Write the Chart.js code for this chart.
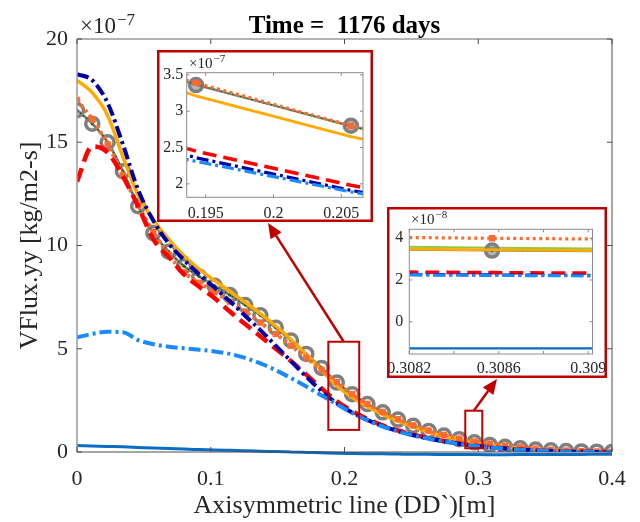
<!DOCTYPE html>
<html>
<head>
<meta charset="utf-8">
<script src="https://cdn.jsdelivr.net/npm/chart.js@4.4.0/dist/chart.umd.min.js"></script>
<style>
  html, body { margin: 0; padding: 0; background: #fff; }
  #wrap { position: relative; width: 640px; height: 522px; }
  #main { position: absolute; left: 0; top: 0; }
  #inA { position: absolute; left: 157px; top: 50px; }
  #inB { position: absolute; left: 387px; top: 207px; }
</style>
</head>
<body>
<div id="wrap">
  <canvas id="main" width="640" height="522"></canvas>
  <canvas id="inA" width="216" height="172"></canvas>
  <canvas id="inB" width="220" height="171"></canvas>
</div>
<script>
// values are in units of 1e-7 kg/m2-s
const xPos = [0, 0.0114, 0.0229, 0.0343, 0.0457, 0.0571, 0.0686, 0.08, 0.0914, 0.1029, 0.1143, 0.1257, 0.1371, 0.1486, 0.16, 0.1714, 0.1829, 0.19429, 0.20571, 0.2171, 0.2286, 0.24, 0.2514, 0.2629, 0.2743, 0.2857, 0.2971, 0.30857, 0.32, 0.3314, 0.3429, 0.3543, 0.3657, 0.3771, 0.3886, 0.4];

const circleRef = [16.55, 15.9, 15.0, 13.6, 11.9, 10.6, 9.7, 9.0, 8.5, 8.05, 7.6, 7.12, 6.62, 6.02, 5.4, 4.75, 4.07, 3.36, 2.8, 2.32, 1.92, 1.57, 1.27, 1.02, 0.8, 0.62, 0.47, 0.341, 0.25, 0.18, 0.12, 0.08, 0.05, 0.03, 0.015, 0.005];
const greenDots = [16.55, 15.9, 15.0, 13.6, 11.9, 10.6, 9.7, 9.0, 8.5, 8.05, 7.6, 7.12, 6.62, 6.02, 5.4, 4.75, 4.07, 3.37, 2.79, 2.32, 1.92, 1.57, 1.27, 1.02, 0.8, 0.62, 0.47, 0.341, 0.25, 0.18, 0.12, 0.08, 0.05, 0.03, 0.015, 0.005];
const greenLine = [16.55, 15.9, 15.0, 13.6, 11.9, 10.6, 9.7, 9.0, 8.5, 8.05, 7.6, 7.12, 6.62, 6.02, 5.4, 4.75, 4.07, 3.37, 2.79, 2.32, 1.92, 1.57, 1.27, 1.02, 0.8, 0.62, 0.48, 0.355, 0.26, 0.18, 0.12, 0.08, 0.05, 0.03, 0.015, 0.005];
const orangeDots = [17.05, 16.1, 14.9, 13.4, 11.95, 10.65, 9.55, 8.7, 8.2, 7.75, 7.28, 6.8, 6.27, 5.72, 5.15, 4.57, 3.98, 3.39, 2.8, 2.33, 1.94, 1.59, 1.29, 1.04, 0.83, 0.65, 0.51, 0.40, 0.31, 0.23, 0.16, 0.11, 0.07, 0.045, 0.025, 0.01];
const orangeLine = [18.0, 17.4, 16.3, 14.3, 12.45, 11.25, 10.3, 9.5, 8.85, 8.3, 7.78, 7.25, 6.7, 6.1, 5.45, 4.72, 3.96, 3.21, 2.65, 2.2, 1.82, 1.49, 1.21, 0.97, 0.76, 0.59, 0.455, 0.344, 0.255, 0.185, 0.125, 0.085, 0.055, 0.032, 0.016, 0.006];
const redDash = [13.1, 14.8, 14.5, 13.35, 11.9, 10.3, 9.45, 8.6, 8.0, 7.45, 6.8, 6.2, 5.6, 5.0, 4.4, 3.75, 3.08, 2.45, 1.98, 1.6, 1.29, 1.04, 0.84, 0.67, 0.53, 0.41, 0.31, 0.235, 0.17, 0.12, 0.08, 0.05, 0.03, 0.015, 0.006, 0.0];
const navyDashDot = [18.3, 18.0, 16.9, 14.9, 12.7, 11.2, 10.1, 9.3, 8.6, 7.95, 7.3, 6.6, 5.9, 5.15, 4.4, 3.65, 2.95, 2.36, 1.91, 1.55, 1.25, 1.01, 0.81, 0.65, 0.51, 0.4, 0.3, 0.224, 0.165, 0.115, 0.075, 0.045, 0.025, 0.012, 0.005, 0.0];
const skyDashDot = [5.55, 5.72, 5.82, 5.8, 5.42, 5.22, 5.1, 5.02, 4.95, 4.87, 4.75, 4.56, 4.29, 3.96, 3.58, 3.17, 2.74, 2.31, 1.89, 1.53, 1.23, 1.0, 0.8, 0.64, 0.5, 0.39, 0.295, 0.222, 0.163, 0.113, 0.074, 0.044, 0.024, 0.011, 0.004, 0.0];
const blueLine = [0.31, 0.29, 0.27, 0.25, 0.22, 0.19, 0.17, 0.14, 0.12, 0.1, 0.08, 0.06, 0.04, 0.02, 0.0, -0.02, -0.04, -0.06, -0.07, -0.08, -0.09, -0.1, -0.11, -0.115, -0.12, -0.125, -0.127, -0.128, -0.128, -0.127, -0.125, -0.122, -0.12, -0.117, -0.113, -0.11];

const xTicksMain = [0, 0.1, 0.2, 0.3, 0.4];
const yTicksMain = [0, 5, 10, 15, 20];
const xTicksA = [0.195, 0.2, 0.205];
const yTicksA = [2, 2.5, 3, 3.5];
const xTicksB = [0.3082, 0.3084, 0.3086, 0.3088, 0.309];
const xLabelsB = ['0.3082', '', '0.3086', '', '0.309'];
const yTicksB = [0, 2, 4];

const titleText = 'Time =  1176 days';
const xTitle = 'Axisymmetric line (DD`)[m]';
const yTitle = 'VFlux.yy [kg/m2-s]';

// zoom windows marked on the main plot (data units)
const zoomA = { x0: 0.1879, x1: 0.2110, y0: 1.07, y1: 5.34 };
const zoomB = { x0: 0.2903, x1: 0.3030, y0: 0.18, y1: 2.0 };

const F = '"Liberation Serif", "Times New Roman", serif';
const RED = '#BE0000';
const TXT = '#262626';

// listed top-most first (Chart.js draws dataset 0 last)
const styles = [
  { ys: skyDashDot, color: '#1A8AFF', width: 4, dash: [12, 4, 3, 4] },
  { ys: navyDashDot, color: '#0000A6', width: 4, dash: [12, 4, 3, 4] },
  { ys: redDash, color: '#FF0000', width: 4.5, dash: [14, 7] },
  { ys: orangeDots, color: '#FF6B2E', width: 4, dash: [3, 3.5], point: 'rect', r: 4.5 },
  { ys: orangeLine, color: '#FFAA00', width: 3.5, dash: [] },
  { ys: greenDots, color: '#1E5F1E', width: 1.5, dash: [1.5, 2.5], point: 'circle', r: 1.6 },
  { ys: circleRef, color: '#7F7F7F', width: 2.5, dash: [], point: 'circle', r: 6.5, pw: 3.5 },
  { ys: greenLine, color: '#93C83E', width: 2.5, dash: [] },
  { ys: blueLine, color: '#0B6CC4', width: 3, dash: [], under: true },
];

function makeSets(k, inset) {
  return styles.map(s => ({
    data: xPos.map((x, i) => ({ x: x, y: s.ys[i] * k })),
    borderColor: s.color,
    borderWidth: s.width * (inset ? 0.8 : 1),
    borderDash: s.dash,
    pointStyle: s.point || 'circle',
    pointRadius: s.point ? s.r : 0,
    pointBorderWidth: s.pw || 0,
    pointBorderColor: s.color,
    pointBackgroundColor: s.pw ? (inset ? 'rgba(120,120,120,0.55)' : 'rgba(0,0,0,0)') : s.color,
    cubicInterpolationMode: inset ? 'default' : 'monotone',
    tension: 0,
    clip: (!inset && s.under) ? { left: 0, top: 0, right: 0, bottom: 5 } : undefined,
  }));
}

function line(ctx, x0, y0, x1, y1) {
  ctx.beginPath(); ctx.moveTo(x0, y0); ctx.lineTo(x1, y1); ctx.stroke();
}

function drawExp(ctx, x, y, base, sup, f1, f2, rise) {
  ctx.textAlign = 'left';
  ctx.textBaseline = 'alphabetic';
  ctx.font = f1 + 'px ' + F;
  ctx.fillText(base, x, y);
  const w = ctx.measureText(base).width;
  ctx.font = f2 + 'px ' + F;
  ctx.fillText(sup, x + w + 1, y - rise);
}

function arrow(ctx, x0, y0, x1, y1) {
  const ang = Math.atan2(y1 - y0, x1 - x0), L = 15, W = 6.5;
  const bx = x1 - L * Math.cos(ang), by = y1 - L * Math.sin(ang);
  line(ctx, x0, y0, bx, by);
  ctx.beginPath();
  ctx.moveTo(x1, y1);
  ctx.lineTo(bx + W * Math.sin(ang), by - W * Math.cos(ang));
  ctx.lineTo(bx - W * Math.sin(ang), by + W * Math.cos(ang));
  ctx.closePath();
  ctx.fill();
}

function frame(ctx, a, xs, ys, xt, yt, tl) {
  ctx.lineWidth = 1;
  ctx.strokeStyle = '#8c8c8c';
  ctx.strokeRect(a.left, a.top, a.right - a.left, a.bottom - a.top);
  xt.forEach(v => {
    const p = xs.getPixelForValue(v);
    line(ctx, p, a.bottom, p, a.bottom - tl);
    line(ctx, p, a.top, p, a.top + tl);
  });
  yt.forEach(v => {
    const p = ys.getPixelForValue(v);
    line(ctx, a.left, p, a.left + tl, p);
    line(ctx, a.right, p, a.right - tl, p);
  });
}

const boxA = { left: 157, top: 50, w: 216, h: 172 };
const boxB = { left: 387, top: 207, w: 220, h: 171 };

const mainDecor = {
  id: 'mainDecor',
  afterDraw(chart) {
    const { ctx, chartArea: a } = chart;
    const xs = chart.scales.x, ys = chart.scales.y;
    ctx.save();
    // axes box
    ctx.lineWidth = 1.5;
    ctx.strokeStyle = '#9a9a9a';
    line(ctx, a.left, a.top, a.left, a.bottom);
    line(ctx, a.left, a.top, a.right, a.top);
    ctx.lineWidth = 1;
    ctx.strokeStyle = '#4d4d4d';
    line(ctx, a.left, a.bottom, a.right, a.bottom);
    line(ctx, a.right, a.top, a.right, a.bottom);
    xTicksMain.forEach(v => {
      const p = xs.getPixelForValue(v);
      line(ctx, p, a.bottom, p, a.bottom - 5);
      line(ctx, p, a.top, p, a.top + 5);
    });
    yTicksMain.forEach(v => {
      const p = ys.getPixelForValue(v);
      line(ctx, a.left, p, a.left + 5, p);
      line(ctx, a.right, p, a.right - 5, p);
    });
    // title and exponent
    ctx.fillStyle = '#000';
    ctx.font = 'bold 25px ' + F;
    ctx.textAlign = 'center';
    ctx.textBaseline = 'alphabetic';
    ctx.fillText(titleText, (a.left + a.right) / 2, 33);
    ctx.fillStyle = TXT;
    drawExp(ctx, a.left + 3, 33, '\u00d710', '\u22127', 23, 17, 8);
    // zoom windows and arrows
    ctx.strokeStyle = RED;
    ctx.fillStyle = RED;
    ctx.lineWidth = 2;
    const tips = [
      [zoomA, boxA.left + 111, boxA.top + boxA.h + 1],
      [zoomB, boxB.left + 110, boxB.top + boxB.h + 1],
    ];
    tips.forEach(([z, tx, ty]) => {
      const x0 = xs.getPixelForValue(z.x0), x1 = xs.getPixelForValue(z.x1);
      const y0 = ys.getPixelForValue(z.y0), y1 = ys.getPixelForValue(z.y1);
      ctx.strokeRect(x0, y1, x1 - x0, y0 - y1);
      ctx.lineWidth = 2.5;
      arrow(ctx, (x0 + x1) / 2, y1, tx, ty);
      ctx.lineWidth = 2;
    });
    ctx.restore();
  }
};

function insetDecor(xt, yt, exp, ex, ey) {
  return {
    id: 'insetDecor',
    beforeDraw(chart) {
      const ctx = chart.ctx;
      ctx.save();
      ctx.fillStyle = '#fff';
      ctx.fillRect(0, 0, chart.width, chart.height);
      ctx.restore();
    },
    afterDraw(chart) {
      const { ctx, chartArea: a } = chart;
      ctx.save();
      frame(ctx, a, chart.scales.x, chart.scales.y, xt, yt, 3);
      ctx.fillStyle = TXT;
      drawExp(ctx, ex, ey, '\u00d710', exp, 15, 11, 6);
      ctx.strokeStyle = RED;
      ctx.lineWidth = 2.5;
      ctx.strokeRect(1.25, 1.25, chart.width - 2.5, chart.height - 2.5);
      ctx.restore();
    }
  };
}

function axis(min, max, ticks, fit, pad, labels, fontSize, title) {
  const ax = {
    type: 'linear', min: min, max: max,
    afterBuildTicks: s => { s.ticks = ticks.map(v => ({ value: v })); },
    afterFit: fit,
    grid: { display: false, drawTicks: false },
    border: { display: false },
    ticks: {
      padding: pad, color: TXT, autoSkip: false, maxRotation: 0,
      font: { family: F, size: fontSize },
      callback: (v, i) => labels ? labels[i] : String(v),
    },
  };
  if (title) ax.title = title;
  return ax;
}

new Chart(document.getElementById('main'), {
  type: 'line',
  data: { datasets: makeSets(1, false) },
  options: {
    responsive: false, animation: false,
    layout: { padding: { top: 39, right: 28, left: 0, bottom: 0 } },
    plugins: { legend: { display: false }, tooltip: { enabled: false } },
    scales: {
      x: axis(0, 0.4, xTicksMain, s => { s.height = 70; s.paddingLeft = 0; s.paddingRight = 0; }, 14, null, 22,
        { display: true, text: xTitle, color: TXT, font: { family: F, size: 26 }, padding: { top: 0, bottom: 0 } }),
      y: axis(0, 20, yTicksMain, s => { s.width = 77; }, 9, null, 22,
        { display: true, text: yTitle, color: TXT, font: { family: F, size: 26 }, padding: { top: 15, bottom: 0 } }),
    }
  },
  plugins: [mainDecor]
});

new Chart(document.getElementById('inA'), {
  type: 'line',
  data: { datasets: makeSets(1, true) },
  options: {
    responsive: false, animation: false,
    layout: { padding: { top: 22.7, right: 3, left: 0, bottom: 0 } },
    plugins: { legend: { display: false }, tooltip: { enabled: false } },
    scales: {
      x: axis(0.1936, 0.2066, xTicksA, s => { s.height = 24.7; s.paddingLeft = 0; s.paddingRight = 0; }, 6.6, null, 16),
      y: axis(1.815, 3.53, yTicksA, s => { s.width = 29.7; }, 3.5, null, 16),
    }
  },
  plugins: [insetDecor(xTicksA, yTicksA, '\u22127', 32, 18)]
});

new Chart(document.getElementById('inB'), {
  type: 'line',
  data: { datasets: makeSets(10, true) },
  options: {
    responsive: false, animation: false,
    layout: { padding: { top: 22.3, right: 14.5, left: 0, bottom: 0 } },
    plugins: { legend: { display: false }, tooltip: { enabled: false } },
    scales: {
      x: axis(0.3082, 0.309019, xTicksB, s => { s.height = 24; s.paddingLeft = 0; s.paddingRight = 0; }, 5, xLabelsB, 16),
      y: axis(-1.55, 4.43, yTicksB, s => { s.width = 22.3; }, 6, null, 16),
    }
  },
  plugins: [insetDecor(xTicksB, yTicksB, '\u22128', 24, 17)]
});
</script>
</body>
</html>
